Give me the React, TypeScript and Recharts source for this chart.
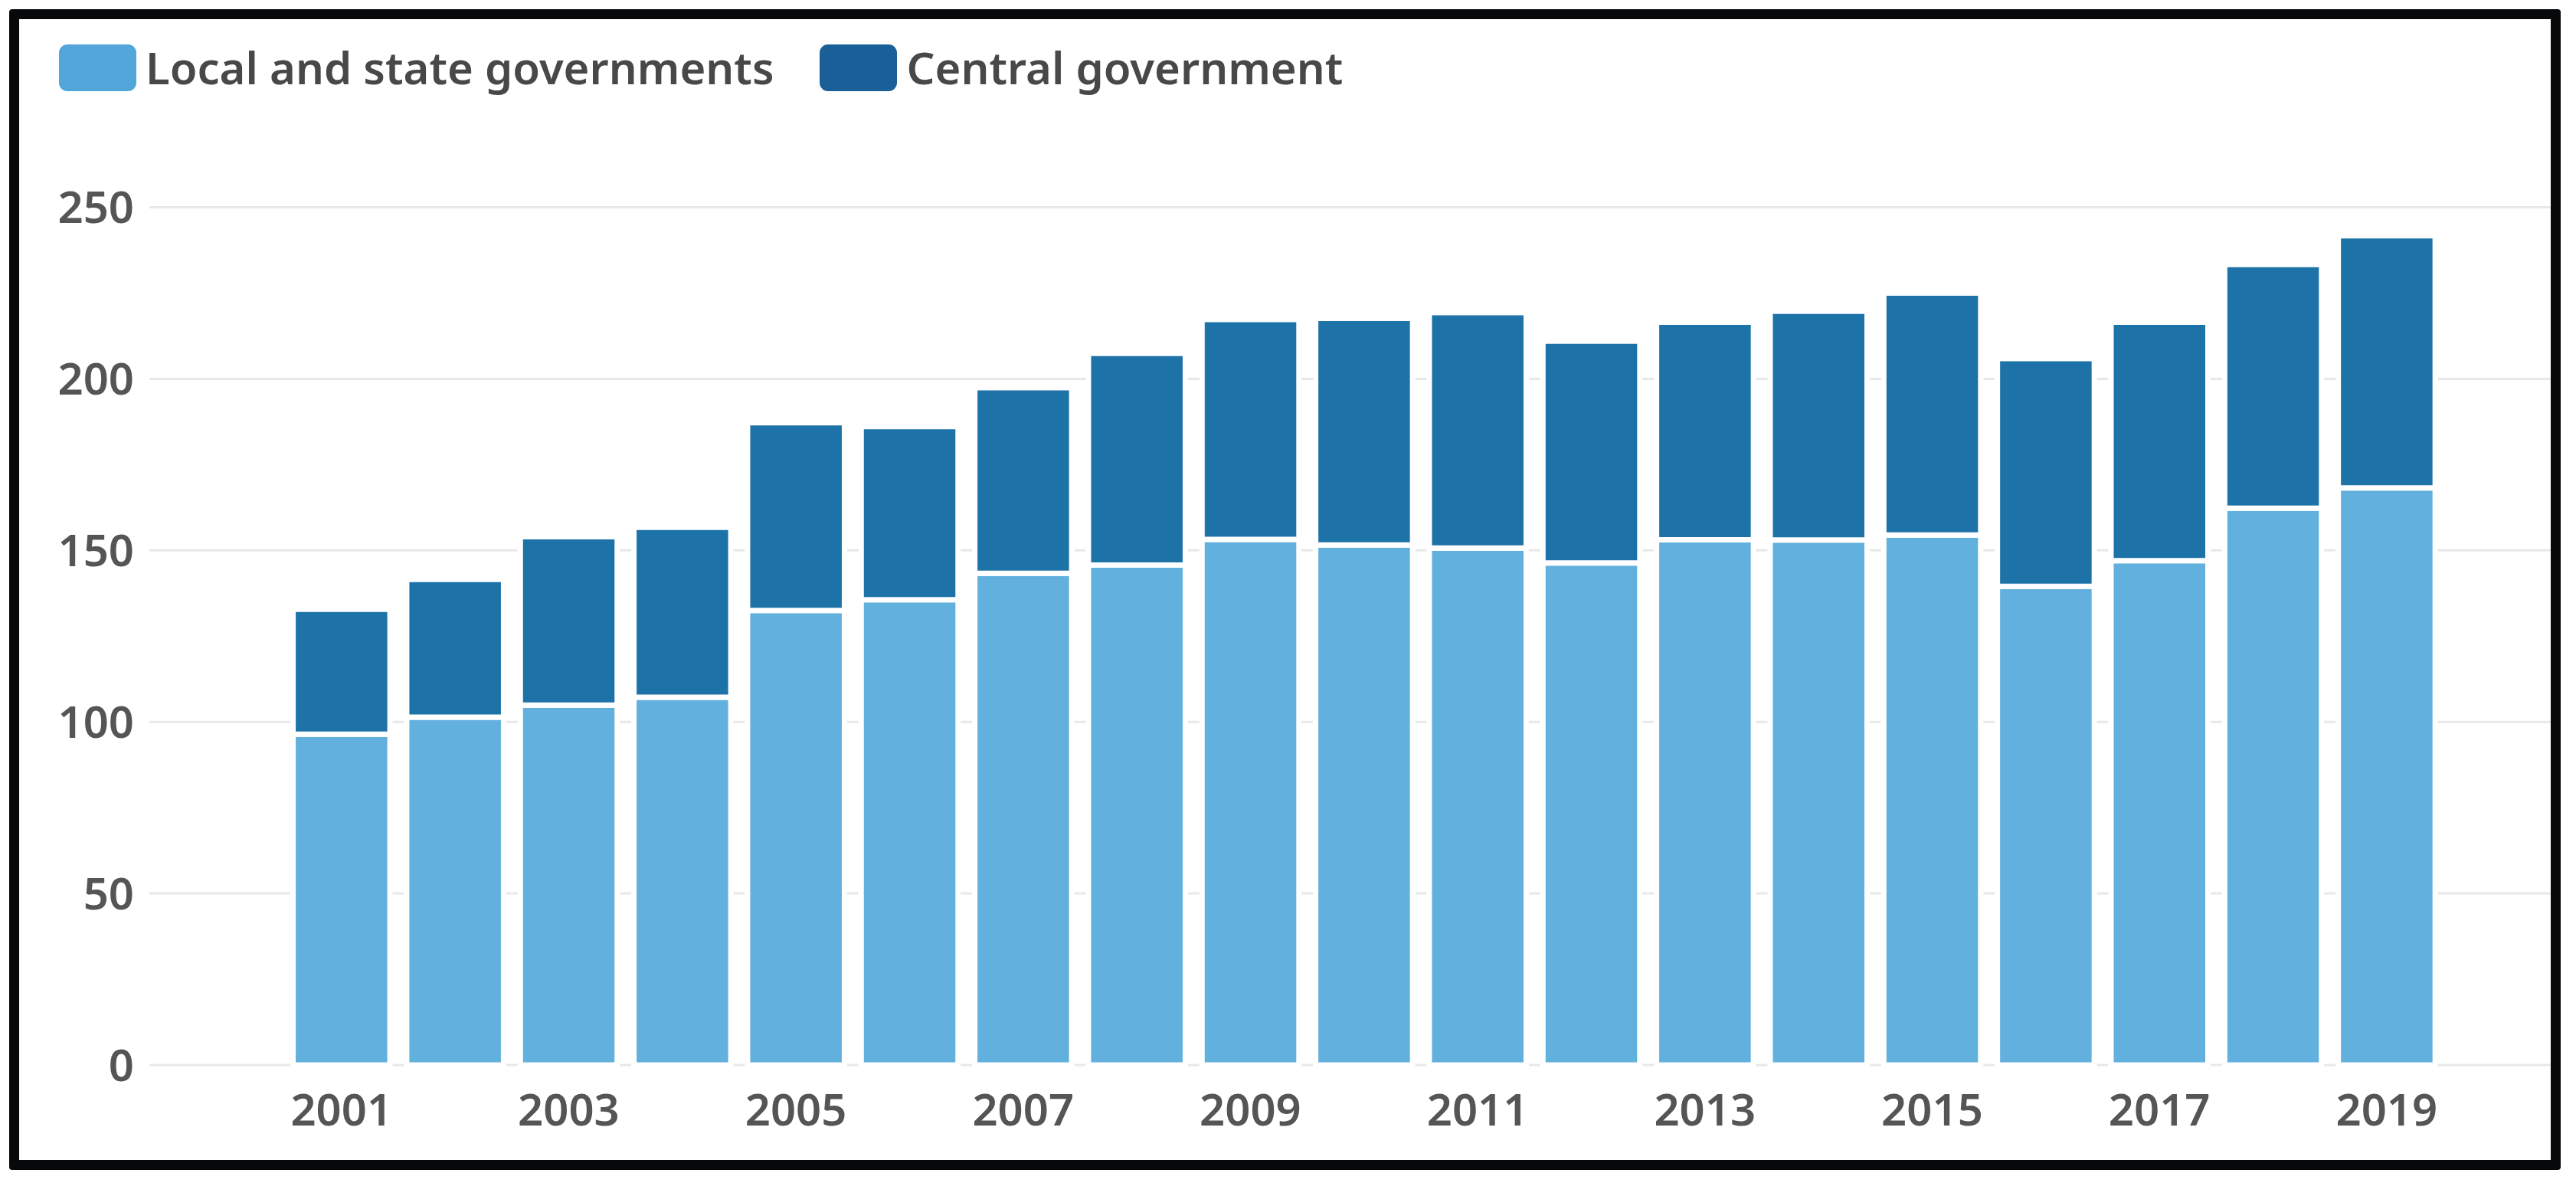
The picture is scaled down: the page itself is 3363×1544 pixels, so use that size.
import React from 'react';
import { BarChart, Bar, XAxis, YAxis, CartesianGrid } from 'recharts';

const years = ['2001','2002','2003','2004','2005','2006','2007','2008','2009','2010','2011','2012','2013','2014','2015','2016','2017','2018','2019'];
const localState = [96.4, 101.4, 104.9, 107.2, 132.5, 135.6, 143.3, 145.7, 153.2, 151.6, 150.7, 146.3, 153.1, 153.0, 154.5, 139.5, 147.0, 162.3, 168.2];
const central = [36.4, 40.1, 49.1, 49.5, 54.7, 50.5, 54.1, 61.7, 64.1, 66.0, 68.6, 64.7, 63.4, 66.7, 70.5, 66.4, 69.5, 71.0, 73.5];
const yTicks = [0, 50, 100, 150, 200, 250];

const seriesNames = ['Local and state governments', 'Central government'];
const barColors = ['#62b0dd', '#1d72a8'];
const legendColors = ['#52a6da', '#1a5f97'];

const data = years.map((y, i) => ({ year: y, local: localState[i], central: central[i] }));

const FONT = '"Noto Sans", "Open Sans", sans-serif';
const WEIGHT = 600;

export default function App() {
  return (
    <div style={{ position: 'absolute', left: 0, top: 0, width: 3363, height: 1544, background: '#fff', overflow: 'hidden' }}>
      <div style={{ position: 'absolute', left: 0, top: 0 }}>
        <BarChart width={3363} height={1544} data={data} margin={{ top: 270.5, right: 33, bottom: 54, left: 20 }}>
          <CartesianGrid vertical={false} stroke="#e8e8e8" strokeWidth={3} />
          <YAxis
            width={175}
            domain={[0, 250]}
            ticks={yTicks}
            axisLine={false}
            tickLine={false}
            tickSize={0}
            tickMargin={20}
            tick={{ fontSize: 58, fill: '#555555', fontFamily: FONT, fontWeight: WEIGHT }}
          />
          <XAxis
            dataKey="year"
            height={100}
            interval={1}
            padding={{ left: 176.6, right: 140 }}
            axisLine={false}
            tickLine={false}
            tickSize={0}
            tickMargin={38}
            tick={{ fontSize: 58, fill: '#555555', fontFamily: FONT, fontWeight: WEIGHT }}
          />
          <Bar dataKey="local" stackId="a" fill={barColors[0]} stroke="#ffffff" strokeWidth={7} barSize={126.5} isAnimationActive={false} />
          <Bar dataKey="central" stackId="a" fill={barColors[1]} stroke="#ffffff" strokeWidth={7} barSize={126.5} isAnimationActive={false} />
        </BarChart>
      </div>
      <div style={{ position: 'absolute', left: 77, top: 58, height: 61, display: 'flex', alignItems: 'center', fontFamily: FONT, fontSize: 58, fontWeight: WEIGHT, color: '#484848' }}>
        {seriesNames.map((n, i) => (
          <div key={n} style={{ display: 'flex', alignItems: 'center', marginRight: 60 }}>
            <div style={{ width: 101, height: 61, borderRadius: 11, background: legendColors[i], marginRight: 12 }} />
            <span style={{ whiteSpace: 'nowrap', lineHeight: 1.36 }}>{n}</span>
          </div>
        ))}
      </div>
      <div style={{ position: 'absolute', left: 12, top: 12, width: 3331, height: 1515, border: '13px solid #060809', boxSizing: 'border-box', borderRadius: 4 }} />
    </div>
  );
}
